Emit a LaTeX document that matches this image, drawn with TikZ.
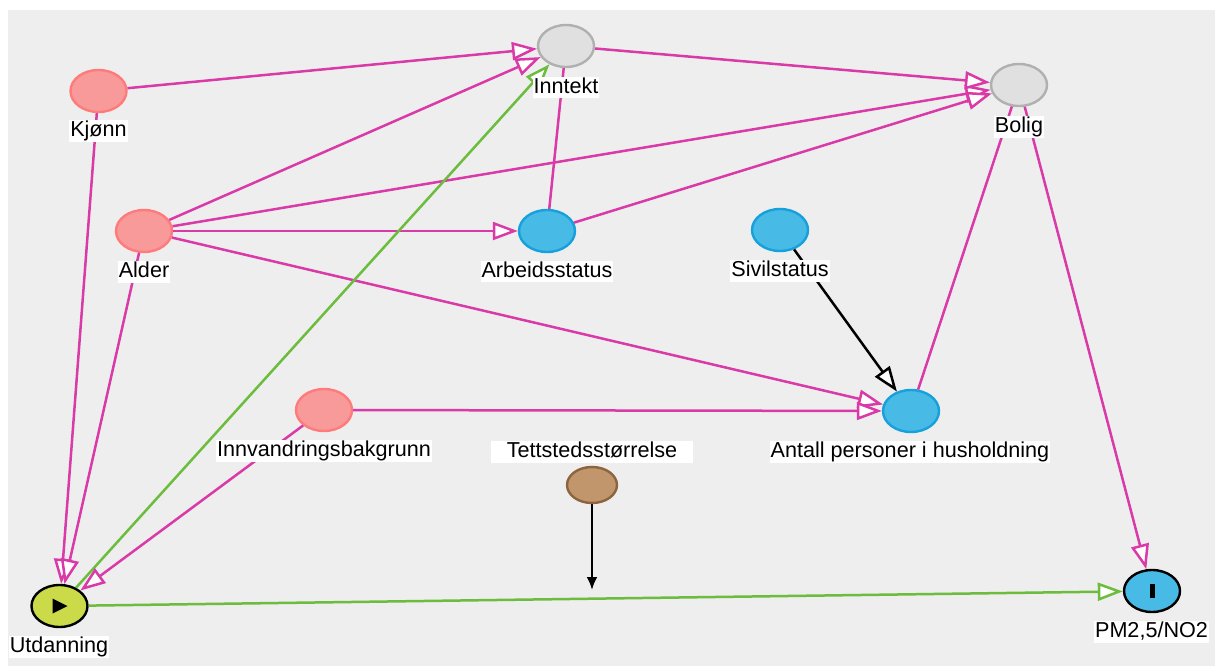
\documentclass[tikz,border=0pt]{standalone}
\usepackage{fontspec}
\setmainfont{Liberation Sans}
\usetikzlibrary{shapes.geometric,arrows.meta}
\definecolor{bgc}{RGB}{238,238,238}
\definecolor{pinkc}{RGB}{218,58,168}
\definecolor{greenc}{RGB}{108,188,62}
\definecolor{redfill}{RGB}{248,154,154}
\definecolor{redline}{RGB}{255,122,122}
\definecolor{bluefill}{RGB}{72,186,230}
\definecolor{blueline}{RGB}{22,160,220}
\definecolor{grayfill}{RGB}{224,224,224}
\definecolor{grayline}{RGB}{176,176,176}
\definecolor{expfill}{RGB}{202,218,72}
\definecolor{brownfill}{RGB}{194,150,108}
\definecolor{brownline}{RGB}{140,100,62}
\tikzset{
  var/.style={ellipse, minimum width=56pt, minimum height=42pt, inner sep=0pt, line width=2.4pt},
  confnode/.style={var, fill=redfill, draw=redline},
  outnode/.style={var, fill=bluefill, draw=blueline},
  latnode/.style={var, fill=grayfill, draw=grayline},
  expnode/.style={var, fill=expfill, draw=black},
  ynode/.style={var, fill=bluefill, draw=black},
  modnode/.style={var, minimum width=50pt, minimum height=36pt, fill=brownfill, draw=brownline},
  lbl/.style={fill=white, inner xsep=1pt, inner ysep=0pt, text height=16.5pt, text depth=5pt, font=\fontsize{21.6}{24}\selectfont},
  opentip/.style={-{Triangle[open, fill=white, length=25pt, width=18pt]}},
  pinkedge/.style={opentip, draw=pinkc, line width=2.5pt},
  pinkline/.style={draw=pinkc, line width=2.5pt},
  greenedge/.style={opentip, draw=greenc, line width=2.5pt},
  blackedge/.style={opentip, draw=black, line width=2.5pt},
  modedge/.style={-{Latex[length=13pt, width=11pt]}, draw=black, line width=2.5pt}
}
\begin{document}
\begin{tikzpicture}[x=1pt, y=-1pt]
\useasboundingbox (0,0) rectangle (1215,666);
\fill[white] (0,0) rectangle (1215,666);
\fill[bgc] (8,10) rectangle (1215,666);
% nodes
\node[latnode] (inn) at (566,46) {};
\node[latnode] (bol) at (1019,85) {};
\node[confnode] (kj) at (98.5,91) {};
\node[confnode] (al) at (144,231) {};
\node[outnode] (arb) at (547,231) {};
\node[outnode] (siv) at (780,230) {};
\node[confnode] (innv) at (324,410) {};
\node[outnode] (ant) at (911,411) {};
\node[modnode] (tet) at (592,485) {};
\node[expnode] (utd) at (59.5,606) {};
\node[ynode] (pm) at (1152,591) {};
\coordinate (modpt) at (592,590);
% edges
\draw[pinkedge] (kj) -- (inn);
\draw[pinkedge] (kj) -- (utd);
\draw[pinkedge] (al) -- (inn);
\draw[pinkedge] (al) -- (bol);
\draw[pinkedge] (al) -- (arb);
\draw[pinkedge] (al) -- (ant);
\draw[pinkedge] (al) -- (utd);
\draw[pinkline] (arb) -- (inn);
\draw[pinkedge] (arb) -- (bol);
\draw[pinkedge] (inn) -- (bol);
\draw[greenedge] (utd) -- (inn);
\draw[greenedge] (utd) -- (pm);
\draw[pinkedge] (bol) -- (pm);
\draw[pinkline] (ant) -- (bol);
\draw[blackedge] (siv) -- (ant);
\draw[pinkedge] (innv) -- (ant);
\draw[pinkedge] (innv) -- (utd);
\draw[modedge] (tet) -- (modpt);
% symbols
\fill[black] (52.5,598.5) -- (52.5,613.5) -- (67.5,606) -- cycle;
\fill[black] (1149.5,584) rectangle (1154.5,598);
% labels
\node[lbl] (linn) at (566,87.5) {Inntekt};
\node[lbl] (lbol) at (1019,127) {Bolig};
\node[lbl] (lkj) at (98.5,131) {Kjønn};
\node[lbl] (lal) at (144,272) {Alder};
\node[lbl] (larb) at (547,271.5) {Arbeidsstatus};
\node[lbl] (lsiv) at (780,271) {Sivilstatus};
\node[lbl] (linnv) at (324,451) {Innvandringsbakgrunn};
\node[lbl] (lant) at (910,452) {Antall personer i husholdning};
\node[lbl, minimum width=202pt] (ltet) at (592,452) {Tettstedsstørrelse};
\node[lbl] (lutd) at (59,647) {Utdanning};
\node[lbl] (lpm) at (1151.5,632) {PM2,5/NO2};
\end{tikzpicture}
\end{document}
